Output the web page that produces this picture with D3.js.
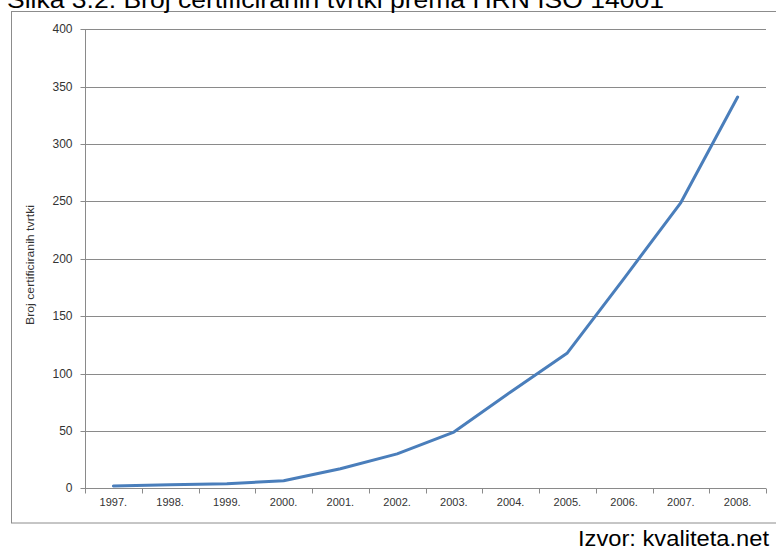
<!DOCTYPE html>
<html><head><meta charset="utf-8">
<script src="https://cdn.jsdelivr.net/npm/d3@7"></script>
<style>body{margin:0;background:#fff;} svg{display:block;font-family:"Liberation Sans",Arial,sans-serif;}</style>
</head><body>
<svg id="c" width="776" height="550"></svg>
<script>
const years = ["1997.","1998.","1999.","2000.","2001.","2002.","2003.","2004.","2005.","2006.","2007.","2008."];
const counts = [2, 3, 4, 6.5, 17, 30, 49, 84, 118, 183, 249, 341];
const yTicks = [0, 50, 100, 150, 200, 250, 300, 350, 400];
const titleText = "Slika 3.2: Broj certificiranih tvrtki prema HRN ISO 14001";
const yTitle = "Broj certificiranih tvrtki";
const sourceText = "Izvor: kvaliteta.net";

const svg = d3.select("#c");
const m = {left: 85, right: 766, top: 29.3, bottom: 488.3};

// frame
svg.append("rect").attr("x", 11.5).attr("y", 11.5).attr("width", 800).attr("height", 511.5)
  .attr("fill", "none").attr("stroke", "#8c8c8c").attr("stroke-width", 1);

// title (cut off at top, as in the reference)
svg.append("text").attr("x", 7).attr("y", 8).attr("font-size", 24)
  .attr("textLength", 657).attr("lengthAdjust", "spacingAndGlyphs")
  .attr("fill", "#000").text(titleText);

const x = d3.scaleBand().domain(years).range([m.left, m.right]).padding(0);
const y = d3.scaleLinear().domain([0, 400]).range([m.bottom, m.top]);

// gridlines
svg.append("g").selectAll("line").data(yTicks.filter(d => d > 0)).join("line")
  .attr("x1", m.left).attr("x2", m.right)
  .attr("y1", d => Math.round(y(d)) + 0.5).attr("y2", d => Math.round(y(d)) + 0.5)
  .attr("stroke", "#8a8a8a").attr("stroke-width", 1);

// y axis
const ya = svg.append("g").attr("transform", `translate(${m.left + 0.5},0)`)
  .call(d3.axisLeft(y).tickValues(yTicks).tickSize(5).tickPadding(8).tickFormat(d3.format("d")));
ya.select(".domain").attr("stroke", "#8a8a8a").attr("d", `M0,${m.top}V${m.bottom}`);
ya.selectAll(".tick line").attr("stroke", "#8a8a8a");
ya.selectAll(".tick").attr("transform", d => `translate(0,${Math.round(y(d)) + 0.5})`);
ya.selectAll("text").attr("font-size", 12).attr("fill", "#333").attr("font-family", "Liberation Sans, Arial, sans-serif");

// x axis
const xa = svg.append("g").attr("transform", `translate(0,${Math.round(m.bottom) + 0.5})`)
  .call(d3.axisBottom(x).tickSize(0).tickPadding(0));
xa.select(".domain").attr("stroke", "#8a8a8a").attr("d", `M${m.left},0H${m.right}`);
xa.selectAll("text").attr("font-size", 11).attr("fill", "#333").attr("y", 17.5).attr("dy", 0)
  .attr("font-family", "Liberation Sans, Arial, sans-serif");
// category boundary ticks
const bounds = years.map(d => x(d)).concat([m.right]);
xa.append("g").selectAll("line").data(bounds).join("line")
  .attr("x1", d => Math.round(d) + 0.5).attr("x2", d => Math.round(d) + 0.5)
  .attr("y1", 0).attr("y2", 5).attr("stroke", "#8a8a8a");

// y title
svg.append("text").attr("transform", "translate(34,265) rotate(-90)")
  .attr("text-anchor", "middle").attr("font-size", 11)
  .attr("textLength", 120).attr("lengthAdjust", "spacingAndGlyphs")
  .attr("fill", "#333").text(yTitle);

// line
const line = d3.line().x((d, i) => x(years[i]) + x.bandwidth() / 2).y(d => y(d));
svg.append("path").datum(counts).attr("d", line).attr("fill", "none")
  .attr("stroke", "#4a7ebb").attr("stroke-width", 3).attr("stroke-linejoin", "round").attr("stroke-linecap", "round");

// source
svg.append("text").attr("x", 769).attr("y", 546).attr("text-anchor", "end")
  .attr("font-size", 22).attr("textLength", 191).attr("lengthAdjust", "spacingAndGlyphs")
  .attr("fill", "#000").text(sourceText);
</script>
</body></html>
